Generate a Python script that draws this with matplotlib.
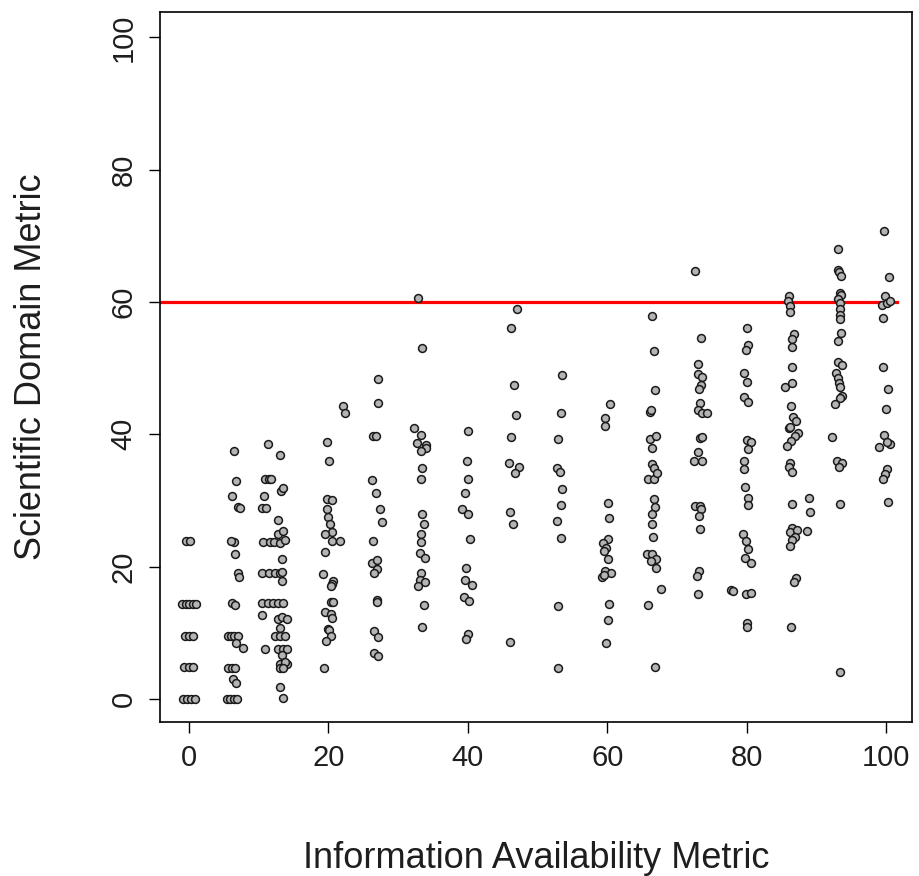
import matplotlib
matplotlib.use("Agg")
import matplotlib.pyplot as plt

# ======================================
# Data (by column)
# ======================================

info_col0 = [-0.8, -0.3, 0.3, 0.8, -0.7, 0.0, 0.6, -0.6, 0.0, 0.5,
             -1.0, -0.5, 0.0, 0.5, 1.0, -0.4, 0.2]
sci_col0 = [0, 0, 0, 0, 4.8, 4.8, 4.8, 9.5, 9.5, 9.5,
            14.3, 14.3, 14.3, 14.3, 14.3, 23.8, 23.8]

info_col7 = [6.5, 6.8, 6.2, 7.0, 7.3, 6.4, 6.0, 6.6, 7.0, 7.2, 6.2, 6.6,
             5.6, 6.0, 6.5, 7.0, 6.8, 7.8, 5.6, 6.1, 6.6, 6.3, 6.8,
             5.4, 5.9, 6.4, 6.9]
sci_col7 = [37.4, 32.9, 30.6, 29.0, 28.8, 23.7, 23.9, 21.9, 19.0, 18.4, 14.5, 14.2,
            9.5, 9.5, 9.5, 9.5, 8.5, 7.7, 4.7, 4.7, 4.7, 3.0, 2.4,
            0, 0, 0, 0]

info_col13 = [11.3, 13.1, 10.9, 11.4, 11.8, 13.2, 13.5, 10.7, 10.5, 11.0, 12.8,
              12.8, 13.5, 10.6, 11.6, 12.2, 13.1, 13.8, 13.3, 10.5, 11.4, 12.3,
              13.1, 13.3, 13.3, 10.5, 11.3, 12.0, 12.8, 13.5, 10.5, 12.8, 13.3,
              14.1, 13.1, 12.3, 13.1, 13.8, 10.9, 12.8, 13.5, 14.1, 13.3, 13.1,
              14.1, 13.8, 13.1, 13.5, 13.1, 13.5]
sci_col13 = [38.6, 36.8, 33.3, 33.3, 33.3, 31.5, 31.9, 30.6, 28.9, 28.9, 27.0,
             25.0, 25.4, 23.7, 23.7, 23.7, 23.5, 24.0, 21.1, 19.0, 19.0, 19.0,
             19.0, 17.8, 19.2, 14.5, 14.5, 14.5, 14.5, 14.5, 12.7, 12.0, 12.4,
             12.0, 10.7, 9.5, 9.5, 9.5, 7.5, 7.6, 7.6, 7.6, 6.6, 5.3,
             5.3, 5.6, 4.7, 4.7, 1.8, 0.2]

info_col20 = [19.8, 20.1, 19.8, 20.5, 19.8, 19.9, 20.2, 20.5, 19.5, 20.5, 21.7,
              19.5, 19.2, 20.7, 20.5, 20.4, 20.4, 20.7, 19.5, 20.4, 20.5, 19.9,
              20.1, 20.4, 19.7, 19.3, 22.1, 22.4]
sci_col20 = [38.8, 36.0, 30.2, 30.1, 28.7, 27.5, 26.4, 25.2, 24.9, 23.9, 23.9,
             22.2, 18.9, 17.8, 17.4, 17.0, 14.6, 14.6, 13.1, 12.8, 12.2, 10.6,
             10.4, 9.5, 8.8, 4.7, 44.3, 43.2]

info_col27 = [26.4, 26.8, 26.3, 26.8, 27.4, 27.7, 26.4, 26.3, 27.0, 27.0, 26.6,
              27.0, 26.9, 26.5, 27.1, 26.5, 27.1, 27.1, 27.1]
sci_col27 = [39.7, 39.8, 33.1, 31.1, 28.7, 26.8, 23.9, 20.5, 21.0, 19.7, 19.0,
             15.0, 14.6, 10.3, 9.4, 6.9, 6.5, 48.3, 44.7]

info_col33 = [32.3, 33.3, 32.7, 34.0, 34.0, 33.3, 33.4, 33.3, 33.4, 33.7, 33.3,
              33.3, 33.1, 33.9, 33.3, 33.1, 33.9, 32.9, 33.7, 33.4, 32.9, 33.4]
sci_col33 = [40.9, 39.9, 38.7, 38.4, 38.0, 37.5, 34.9, 33.2, 28.0, 26.4, 24.9,
             23.7, 22.0, 21.3, 19.0, 18.0, 17.6, 17.1, 14.2, 10.9, 60.6, 53.0]

info_col40 = [40.0, 39.9, 40.0, 39.6, 39.2, 40.0, 40.3, 39.7, 39.6, 40.6, 39.5,
              40.2, 40.0, 39.7]
sci_col40 = [40.5, 36.0, 33.2, 31.1, 28.7, 28.0, 24.2, 19.8, 17.9, 17.2, 15.4,
             14.8, 9.8, 9.1]

info_col47 = [46.2, 45.9, 47.3, 46.8, 46.1, 46.5, 46.1, 47.1, 46.2, 46.6, 46.9]
sci_col47 = [39.6, 35.6, 35.0, 34.1, 28.2, 26.4, 8.6, 58.9, 56.0, 47.4, 42.9]

info_col53 = [52.9, 52.8, 53.2, 53.5, 53.4, 52.8, 53.4, 52.9, 52.9, 53.5, 53.4]
sci_col53 = [39.3, 34.9, 34.3, 31.7, 29.3, 26.9, 24.3, 14.0, 4.7, 48.9, 43.2]

info_col60 = [60.4, 59.7, 59.7, 60.1, 60.3, 60.1, 59.4, 59.9, 59.6, 60.1, 59.7,
              60.5, 59.3, 59.6, 60.3, 60.1, 59.8]
sci_col60 = [44.6, 42.4, 41.2, 29.6, 27.3, 24.2, 23.6, 22.8, 22.4, 21.1, 19.3,
             19.0, 18.4, 18.8, 14.4, 11.9, 8.5]

info_col67 = [66.1, 67.0, 66.4, 66.4, 66.7, 65.9, 66.7, 67.1, 66.7, 66.9, 66.4,
              66.4, 66.6, 65.7, 66.4, 67.0, 66.3, 67.0, 67.7, 65.8, 66.9, 66.4,
              66.7, 66.9, 66.1, 66.3]
sci_col67 = [39.3, 39.7, 37.9, 35.5, 34.9, 33.3, 33.2, 34.2, 30.2, 29.0, 28.0,
             26.4, 24.5, 21.9, 21.9, 21.2, 20.8, 19.8, 16.6, 14.2, 4.8, 57.9,
             52.6, 46.7, 43.4, 43.6]

info_col73 = [73.3, 73.6, 73.0, 72.5, 73.6, 72.6, 73.3, 73.4, 73.2, 73.3, 73.2,
              72.9, 73.0, 72.6, 73.5, 73.0, 73.0, 73.6, 73.5, 73.2, 73.3, 73.0,
              73.6, 74.3]
sci_col73 = [39.4, 39.6, 37.3, 36.0, 36.0, 29.2, 29.2, 28.7, 27.6, 25.7, 19.3,
             18.6, 15.9, 64.7, 54.5, 50.6, 49.1, 48.7, 47.5, 46.8, 44.7, 43.7,
             43.2, 43.2]

info_col80 = [80.1, 80.6, 80.2, 79.6, 79.6, 79.8, 80.2, 80.2, 79.5, 79.9, 80.2,
              79.8, 80.7, 77.7, 78.0, 79.9, 80.7, 80.1, 80.0, 80.1, 80.2, 79.9,
              79.6, 80.1, 79.6, 80.2]
sci_col80 = [39.1, 38.8, 37.8, 36.0, 34.7, 32.0, 30.4, 29.3, 25.0, 23.9, 22.6,
             21.3, 20.5, 16.5, 16.3, 15.9, 16.0, 11.5, 10.9, 56.0, 53.5, 52.7,
             49.2, 47.9, 45.6, 44.9]

info_col87 = [86.1, 87.4, 87.0, 86.4, 85.8, 86.3, 86.1, 86.5, 86.5, 86.5, 86.3,
              87.2, 87.0, 86.5, 86.3, 87.1, 86.8, 86.4, 86.1, 85.9, 86.3, 86.3,
              86.8, 86.5, 86.5, 86.5, 85.5, 86.5, 86.4, 86.6, 87.1, 86.2, 88.7,
              89.0, 89.1]
sci_col87 = [41.0, 40.2, 39.7, 39.0, 38.2, 35.6, 35.0, 34.3, 29.4, 25.8, 25.2,
             25.5, 24.4, 24.0, 23.1, 18.2, 17.6, 10.9, 60.9, 60.2, 59.4, 58.5,
             55.1, 54.4, 53.2, 50.2, 47.1, 47.8, 44.3, 42.6, 42.0, 41.1, 25.4,
             30.4, 28.2]

info_col93 = [92.3, 93.0, 93.7, 93.3, 93.4, 93.4, 93.1, 93.1, 93.3, 93.5, 93.4,
              93.5, 93.1, 93.4, 93.4, 93.4, 93.4, 93.5, 93.1, 93.1, 93.7, 92.9,
              93.1, 93.2, 93.4, 93.7, 93.4, 92.7]
sci_col93 = [39.6, 36.0, 35.7, 35.0, 29.5, 4.1, 68.0, 64.8, 64.5, 64.0, 61.3,
             61.0, 60.4, 59.8, 58.9, 58.1, 57.4, 55.3, 54.1, 51.0, 50.4, 49.2,
             48.5, 47.8, 47.1, 45.8, 45.5, 44.6]

info_col100 = [99.7, 100.6, 100.2, 99.0, 100.1, 99.9, 99.6, 100.3, 99.7, 100.4,
               99.9, 99.4, 100.1, 100.6, 99.6, 99.6, 100.3, 100.0]
sci_col100 = [39.9, 38.6, 38.9, 38.1, 34.7, 34.0, 33.2, 29.8, 70.8, 63.8, 60.9,
              59.5, 59.9, 60.2, 57.6, 50.2, 46.8, 43.8]

info_cols = [info_col0, info_col7, info_col13, info_col20, info_col27,
             info_col33, info_col40, info_col47, info_col53, info_col60,
             info_col67, info_col73, info_col80, info_col87, info_col93,
             info_col100]
sci_cols = [sci_col0, sci_col7, sci_col13, sci_col20, sci_col27,
            sci_col33, sci_col40, sci_col47, sci_col53, sci_col60,
            sci_col67, sci_col73, sci_col80, sci_col87, sci_col93,
            sci_col100]

info_x = [v for col in info_cols for v in col]
sci_y = [v for col in sci_cols for v in col]

threshold = 60
ticks = [0, 20, 40, 60, 80, 100]

# ======================================
# Plot
# ======================================

plt.rcParams["font.family"] = ["Liberation Sans", "DejaVu Sans"]

text_color = "#1e1e1e"

fig = plt.figure(figsize=(9.2, 8.76), dpi=100)
ax = fig.add_axes([0.174, 0.176, 0.817, 0.810])

ax.scatter(
    info_x,
    sci_y,
    s=32,
    facecolor="#b4b4b4",
    edgecolor="#1a1a1a",
    linewidth=1.1,
    zorder=3
)

ax.plot(
    [-4.2, 101.6],
    [threshold, threshold],
    color="#ff0000",
    linewidth=2.3,
    zorder=2
)

ax.set_xlim(-4.16, 103.7)
ax.set_ylim(-3.47, 103.8)

ax.set_xticks(ticks)
ax.set_yticks(ticks)
ax.set_xticklabels([str(t) for t in ticks])
ax.set_yticklabels([str(t) for t in ticks], rotation=90, va="center")

ax.tick_params(
    direction="out",
    length=8,
    width=1,
    labelsize=21,
    pad=8,
    labelcolor=text_color
)

for spine in ax.spines.values():
    spine.set_linewidth(1.2)

ax.set_xlabel(
    "Information Availability Metric",
    fontsize=26,
    labelpad=50,
    color=text_color
)
ax.set_ylabel(
    "Scientific Domain Metric",
    fontsize=26,
    labelpad=44,
    color=text_color
)

fig.savefig("out.png", dpi=100)
